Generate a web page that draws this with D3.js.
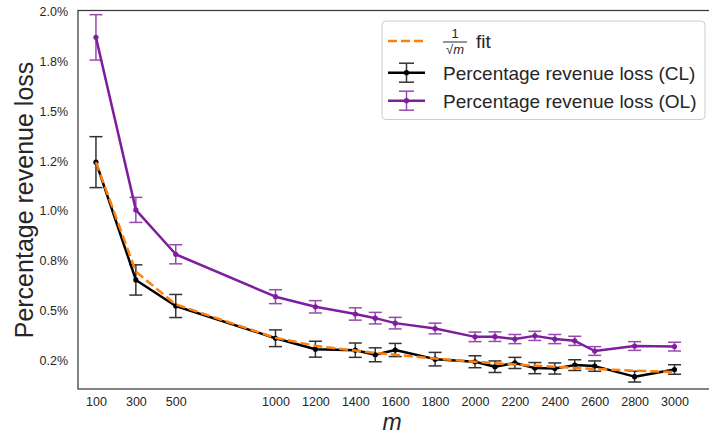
<!DOCTYPE html>
<html>
<head>
<meta charset="utf-8">
<script src="https://cdn.jsdelivr.net/npm/d3@7"></script>
<style>
  html, body { margin: 0; padding: 0; background: #fff; }
  svg { display: block; font-family: "Liberation Sans", Arial, sans-serif; }
</style>
</head>
<body>
<svg id="chart" width="709" height="435"></svg>
<script>
// Sample sizes m
const mValues = [100, 300, 500, 1000, 1200, 1400, 1500, 1600, 1800, 2000, 2100, 2200, 2300, 2400, 2500, 2600, 2800, 3000];

// Percentage revenue loss, closed loop (CL), with error half-widths
const clLoss = [1.245, 0.653, 0.522, 0.360, 0.305, 0.300, 0.277, 0.301, 0.255, 0.242, 0.217, 0.236, 0.210, 0.208, 0.225, 0.220, 0.167, 0.203];
const clErr  = [0.128, 0.076, 0.058, 0.042, 0.040, 0.036, 0.035, 0.033, 0.034, 0.030, 0.029, 0.028, 0.028, 0.028, 0.027, 0.026, 0.027, 0.024];

// Percentage revenue loss, open loop (OL), with error half-widths
const olLoss = [1.872, 1.005, 0.782, 0.569, 0.518, 0.482, 0.461, 0.436, 0.409, 0.367, 0.368, 0.356, 0.372, 0.356, 0.347, 0.296, 0.321, 0.318];
const olErr  = [0.114, 0.063, 0.048, 0.035, 0.031, 0.031, 0.029, 0.029, 0.027, 0.024, 0.024, 0.023, 0.023, 0.023, 0.023, 0.022, 0.022, 0.022];

// 1/sqrt(m) fit curve
const fitLoss = [1.245, 0.695, 0.530, 0.362, 0.322, 0.298, 0.287, 0.277, 0.258, 0.242, 0.235, 0.228, 0.222, 0.217, 0.211, 0.206, 0.197, 0.190];

// Axis ticks
const xTickValues = [100, 300, 500, 1000, 1200, 1400, 1600, 1800, 2000, 2200, 2400, 2600, 2800, 3000];
const yTickValues = [0.25, 0.5, 0.75, 1.0, 1.25, 1.5, 1.75, 2.0];
const yTickLabels = ["0.2%", "0.5%", "0.8%", "1.0%", "1.2%", "1.5%", "1.8%", "2.0%"];

const clColor = "#000000";
const olColor = "#7e1e9c";
const fitColor = "#ff7f0e";
const textColor = "#262626";
const spineColor = "#3a3a3a";

const svg = d3.select("#chart");
const plot = { left: 78, right: 712, top: 10.5, bottom: 389 };

const x = d3.scaleLinear().domain([10, 3188]).range([plot.left, plot.right]);
const y = d3.scaleLinear().domain([0.105, 2.007]).range([plot.bottom, plot.top]);

// Axes (no tick marks, labels only)
const xAxis = d3.axisBottom(x).tickValues(xTickValues).tickSize(0).tickPadding(8).tickFormat(d3.format("d"));
const yAxis = d3.axisLeft(y).tickValues(yTickValues).tickSize(0).tickPadding(10)
  .tickFormat((d, i) => yTickLabels[i]);

const gx = svg.append("g").attr("transform", `translate(0,${plot.bottom})`).call(xAxis);
const gy = svg.append("g").attr("transform", `translate(${plot.left},0)`).call(yAxis);
[gx, gy].forEach(g => {
  g.select(".domain").remove();
  g.selectAll("text").attr("fill", textColor).style("font-size", "12.5px")
    .style("font-family", '"Liberation Sans", Arial, sans-serif');
});

// Frame
svg.append("rect")
  .attr("x", plot.left).attr("y", plot.top)
  .attr("width", plot.right - plot.left).attr("height", plot.bottom - plot.top)
  .attr("fill", "none").attr("stroke", spineColor).attr("stroke-width", 1.25);

// Axis titles
svg.append("text")
  .attr("transform", `translate(33,200) rotate(-90)`)
  .attr("text-anchor", "middle")
  .attr("fill", textColor)
  .style("font-size", "25px")
  .text("Percentage revenue loss");

svg.append("text")
  .attr("x", 392).attr("y", 429.8)
  .attr("text-anchor", "middle")
  .attr("fill", textColor)
  .style("font-size", "23px")
  .style("font-style", "italic")
  .text("m");

const line = d3.line().x(d => x(d[0])).y(d => y(d[1]));

function drawSeries(values, errs, color) {
  const g = svg.append("g");
  const pts = mValues.map((m, i) => [m, values[i], errs[i]]);
  const eb = g.append("g").attr("stroke", color).attr("stroke-width", 1.5).attr("opacity", 0.8);
  pts.forEach(p => {
    const cx = x(p[0]), y0 = y(p[1] - p[2]), y1 = y(p[1] + p[2]);
    eb.append("line").attr("x1", cx).attr("x2", cx).attr("y1", y0).attr("y2", y1);
    eb.append("line").attr("x1", cx - 6.5).attr("x2", cx + 6.5).attr("y1", y0).attr("y2", y0);
    eb.append("line").attr("x1", cx - 6.5).attr("x2", cx + 6.5).attr("y1", y1).attr("y2", y1);
  });
  g.append("path").datum(pts).attr("d", line)
    .attr("fill", "none").attr("stroke", color).attr("stroke-width", 2.5)
    .attr("stroke-linejoin", "round");
  g.selectAll("circle").data(pts).join("circle")
    .attr("cx", d => x(d[0])).attr("cy", d => y(d[1])).attr("r", 2.6).attr("fill", color);
}

drawSeries(clLoss, clErr, clColor);

// Fit curve drawn dashed over the CL series
svg.append("path")
  .datum(mValues.map((m, i) => [m, fitLoss[i]]))
  .attr("d", line)
  .attr("fill", "none").attr("stroke", fitColor).attr("stroke-width", 2.5)
  .attr("stroke-dasharray", "9,4");

drawSeries(olLoss, olErr, olColor);

// Legend
const lg = svg.append("g");
lg.append("rect")
  .attr("x", 382).attr("y", 21).attr("width", 323).attr("height", 98.5)
  .attr("rx", 4).attr("fill", "#fff").attr("fill-opacity", 0.85)
  .attr("stroke", "#cccccc").attr("stroke-width", 1);

const lx0 = 388, lx1 = 425, ltx = 443;
// fit entry
lg.append("line").attr("x1", lx0).attr("x2", lx1).attr("y1", 41).attr("y2", 41)
  .attr("stroke", fitColor).attr("stroke-width", 2.5).attr("stroke-dasharray", "9,4");
lg.append("text").attr("x", 455).attr("y", 38).attr("text-anchor", "middle")
  .attr("fill", textColor).style("font-size", "13px").text("1");
lg.append("line").attr("x1", 443).attr("x2", 467).attr("y1", 42).attr("y2", 42)
  .attr("stroke", textColor).attr("stroke-width", 1);
const sq = lg.append("text").attr("x", 455).attr("y", 54).attr("text-anchor", "middle")
  .attr("fill", textColor).style("font-size", "13px");
sq.append("tspan").text("\u221A");
sq.append("tspan").style("font-style", "italic").text("m");
lg.append("text").attr("x", 476).attr("y", 48).attr("fill", textColor)
  .style("font-size", "19px").text("fit");

function legendErr(yc, color, label) {
  const cx = (lx0 + lx1) / 2;
  const e = lg.append("g").attr("stroke", color).attr("stroke-width", 1.5).attr("opacity", 0.8);
  e.append("line").attr("x1", cx).attr("x2", cx).attr("y1", yc - 9.5).attr("y2", yc + 9.5);
  e.append("line").attr("x1", cx - 7.5).attr("x2", cx + 7.5).attr("y1", yc - 9.5).attr("y2", yc - 9.5);
  e.append("line").attr("x1", cx - 7.5).attr("x2", cx + 7.5).attr("y1", yc + 9.5).attr("y2", yc + 9.5);
  lg.append("line").attr("x1", lx0).attr("x2", lx1).attr("y1", yc).attr("y2", yc)
    .attr("stroke", color).attr("stroke-width", 2.5);
  lg.append("circle").attr("cx", cx).attr("cy", yc).attr("r", 2.6).attr("fill", color);
  lg.append("text").attr("x", ltx).attr("y", yc + 6.8).attr("fill", textColor)
    .style("font-size", "19px").text(label);
}
legendErr(72.7, clColor, "Percentage revenue loss (CL)");
legendErr(100.7, olColor, "Percentage revenue loss (OL)");
</script>
</body>
</html>
